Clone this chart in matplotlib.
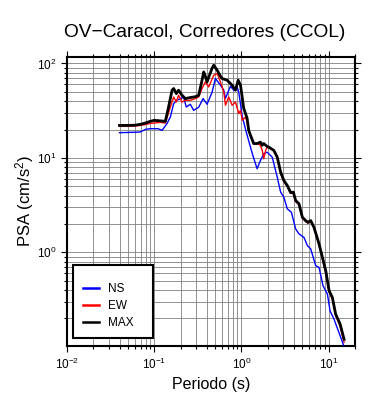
import matplotlib
matplotlib.use("Agg")
import matplotlib.pyplot as plt
from matplotlib.ticker import LogLocator, NullFormatter

plt.rcParams['font.family'] = ['Liberation Sans', 'DejaVu Sans']
plt.rcParams['mathtext.fontset'] = 'custom'
plt.rcParams['mathtext.rm'] = 'Liberation Sans'
plt.rcParams['mathtext.it'] = 'Liberation Sans:italic'
plt.rcParams['mathtext.default'] = 'regular'

title = "OV\u2212Caracol, Corredores (CCOL)"
xlabel = "Periodo (s)"
ylabel = "PSA (cm/s$^2$)"

# --- data ---
T_max = [0.04, 0.05, 0.06, 0.07, 0.08, 0.09, 0.10, 0.117, 0.134, 0.146, 0.16, 0.167,
         0.179, 0.19, 0.208, 0.227, 0.259, 0.296, 0.323, 0.353, 0.369, 0.385, 0.403,
         0.421, 0.46, 0.481, 0.526, 0.574, 0.60, 0.685, 0.782, 0.853, 0.916, 0.975,
         1.06, 1.16, 1.21, 1.27, 1.38, 1.51, 1.65, 1.73, 1.80, 1.97, 2.06, 2.35, 2.57,
         2.81, 3.06, 3.35, 3.66, 3.93, 4.18, 4.56, 4.99, 5.44, 5.78, 6.21, 6.78, 7.74,
         8.47, 9.24, 10.1, 11.0, 12.0, 13.5, 15.0]
psa_max = [22.1, 22.1, 22.2, 22.7, 23.5, 24.4, 25.0, 24.7, 24.4, 34.6, 52.1, 54.3,
           48.0, 52.1, 46.1, 42.5, 43.6, 44.5, 46.1, 66.5, 81.4, 73.3, 63.8,
           71.5, 89.1, 95.9, 84.9, 73.3, 69.3, 66.5, 58.8, 52.1, 66.5, 58.8,
           33.5, 26.3, 19.6, 17.3, 14.2, 14.2, 14.7, 13.6, 14.2, 13.2, 13.0, 12.0, 10.2,
           7.07, 5.77, 5.11, 4.30, 4.34, 3.54, 3.27, 2.35, 2.17, 2.08, 2.17, 1.84, 1.23,
           0.885, 0.639, 0.392, 0.333, 0.222, 0.174, 0.120]

T_ew = [0.04, 0.05, 0.06, 0.07, 0.08, 0.09, 0.103, 0.117, 0.134, 0.153, 0.167, 0.179,
        0.19, 0.208, 0.227, 0.259, 0.296, 0.323, 0.353, 0.385, 0.421, 0.481, 0.526,
        0.574, 0.627, 0.655, 0.714, 0.782, 0.853, 0.931, 0.975, 1.02, 1.12, 1.21, 1.38,
        1.51, 1.65, 1.73, 1.80, 1.89, 1.97, 2.35, 2.57, 2.81, 3.06, 3.35, 3.66, 3.93,
        4.18, 4.56, 4.99, 5.44, 5.78, 6.21, 6.78, 7.74, 8.47, 9.24, 10.1, 11.0, 12.0,
        13.5, 15.0]
psa_ew = [21.6, 21.6, 21.8, 22.1, 22.6, 23.2, 23.5, 23.8, 23.4, 34.6, 44.2, 39.1,
          46.1, 39.1, 40.8, 40.8, 42.5, 44.2, 54.3, 63.8, 56.4, 75.1, 78.3,
          63.8, 49.9, 36.1, 44.2, 36.1, 39.1, 29.5, 31.9, 25.0, 27.1, 19.6, 14.2,
          14.2, 13.6, 12.0, 9.80, 12.0, 13.0, 12.0, 9.87, 6.85, 5.6, 5.0, 4.2, 4.25,
          3.45, 3.2, 2.3, 2.12, 2.04, 2.12, 1.80, 1.20, 0.85, 0.61, 0.38, 0.325, 0.215,
          0.165, 0.112]

T_ns = [0.04, 0.069, 0.08, 0.09, 0.11, 0.123, 0.14, 0.153, 0.167, 0.182, 0.20, 0.217,
        0.233, 0.259, 0.283, 0.323, 0.363, 0.403, 0.46, 0.502, 0.556, 0.627, 0.655,
        0.685, 0.748, 0.816, 0.893, 0.931, 1.02, 1.12, 1.33, 1.51, 1.65, 1.80, 1.97,
        2.25, 2.57, 2.81, 3.06, 3.35, 3.73, 4.18, 4.56, 5.2, 5.69, 6.21, 7.09, 7.74,
        8.6, 9.66, 10.35, 11.5, 14.8]
psa_ns = [18.5, 18.8, 20.1, 20.4, 20.4, 19.6, 23.1, 27.1, 37.6, 40.8, 42.5, 43.9,
          34.6, 37.0, 31.9, 34.4, 42.5, 37.0, 49.6, 69.3, 61.3, 52.1, 42.8,
          47.2, 57.4, 52.1, 56.0, 49.6, 27.6, 19.6, 11.1, 7.68, 9.41, 11.1, 11.5,
          10.2, 6.25, 4.34, 3.84, 2.89, 2.66, 1.77, 1.57, 1.44, 1.18, 1.09, 0.723, 0.693,
          0.443, 0.362, 0.240, 0.196, 0.104]

series_labels = ["NS", "EW", "MAX"]
series_colors = ["#0000ff", "#ff0000", "#000000"]

fig = plt.figure(figsize=(3.9, 4.0), dpi=100)
ax = fig.add_axes([67/390, 1-346/400, (355-67)/390, (346-56.7)/400])

ax.plot(T_ns, psa_ns, color=series_colors[0], lw=1.0, label=series_labels[0], zorder=3)
ax.plot(T_ew, psa_ew, color=series_colors[1], lw=1.0, label=series_labels[1], zorder=4)
ax.plot(T_max, psa_max, color=series_colors[2], lw=2.0, label=series_labels[2], zorder=5)

ax.set_xscale('log')
ax.set_yscale('log')
ax.set_xlim(0.01, 20)
ax.set_ylim(0.102, 118)

ax.xaxis.set_major_locator(LogLocator(base=10, numticks=10))
ax.xaxis.set_minor_locator(LogLocator(base=10, subs=range(2, 10), numticks=20))
ax.yaxis.set_major_locator(LogLocator(base=10, numticks=10))
ax.yaxis.set_minor_locator(LogLocator(base=10, subs=range(2, 10), numticks=20))
ax.xaxis.set_minor_formatter(NullFormatter())
ax.yaxis.set_minor_formatter(NullFormatter())

ax.grid(True, which='both', color='0.5', lw=0.6, zorder=0)
ax.set_axisbelow(True)

ax.tick_params(which='both', direction='out', top=True, right=True, labelsize=8.5,
               width=0.8, color='black')
ax.tick_params(which='major', length=4)
ax.tick_params(which='minor', length=2.5)
for s in ax.spines.values():
    s.set_linewidth(1.5)

ax.set_title(title, fontsize=13.8, pad=14, x=0.478)
ax.set_xlabel(xlabel, fontsize=11.5, labelpad=4)
ax.set_ylabel(ylabel, fontsize=12, labelpad=1)

leg = ax.legend(loc='lower left', fontsize=8.5, fancybox=False, framealpha=1,
                edgecolor='black', handlelength=1.4, handletextpad=0.7,
                labelspacing=0.4, borderpad=0.8, borderaxespad=0.0,
                bbox_to_anchor=(0.022, 0.027, 0.278, 0.2), mode='expand',
                title=' ', title_fontsize=3)
leg.get_frame().set_linewidth(1.5)
for h in leg.get_lines():
    h.set_linewidth(1.8)

fig.savefig("out.png", dpi=100)
